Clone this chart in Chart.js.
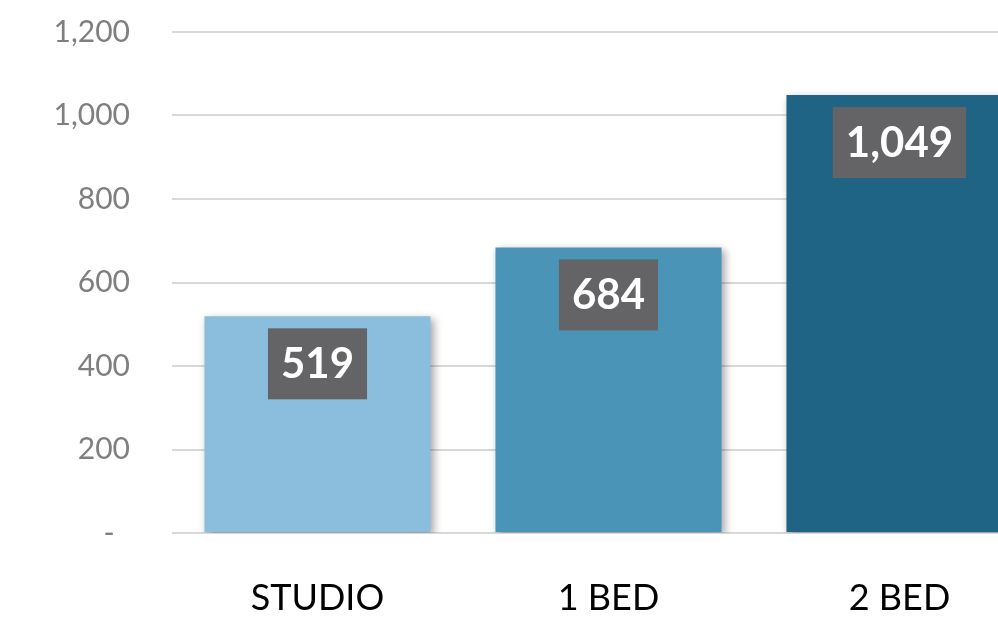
<!DOCTYPE html>
<html lang="en">
<head>
    <meta charset="UTF-8">
    <title>Unit sizes</title>
    <script src="https://cdn.jsdelivr.net/npm/chart.js"></script>
    <style>
        html, body { margin: 0; padding: 0; overflow: hidden; background: #fff; }
        #wrap { width: 1045px; height: 620px; }
    </style>
</head>
<body>
    <div id="wrap"><canvas id="chart" width="1045" height="620"></canvas></div>

    <script>
        // data
        const categories = ['STUDIO', '1 BED', '2 BED'];
        const values = [519, 684, 1049];
        const barColors = ['#8abedc', '#4a94b8', '#206485'];
        const yTicks = [0, 200, 400, 600, 800, 1000, 1200];

        function fmt(v) {
            return v === 0 ? '-' : v.toLocaleString('en-US');
        }

        // soft shadow under the bars
        const barShadow = {
            id: 'barShadow',
            beforeDatasetsDraw(chart) {
                const ctx = chart.ctx;
                ctx.save();
                ctx.shadowColor = 'rgba(0,0,0,0.35)';
                ctx.shadowBlur = 8;
                ctx.shadowOffsetX = 3;
                ctx.shadowOffsetY = 3;
            },
            afterDatasetsDraw(chart) {
                chart.ctx.restore();
            }
        };

        // dark boxes with the value near the top of each bar
        const valueBoxes = {
            id: 'valueBoxes',
            afterDatasetsDraw(chart) {
                const ctx = chart.ctx;
                const meta = chart.getDatasetMeta(0);
                ctx.save();
                ctx.font = 'bold 42px Lato';
                ctx.textAlign = 'center';
                ctx.textBaseline = 'middle';
                meta.data.forEach((bar, i) => {
                    const txt = fmt(values[i]);
                    const w = ctx.measureText(txt).width + 26;
                    const h = 71;
                    const top = bar.y + 12;
                    ctx.fillStyle = '#646466';
                    ctx.fillRect(bar.x - w / 2, top, w, h);
                    ctx.fillStyle = '#ffffff';
                    ctx.fillText(txt, bar.x, top + h / 2 + 1);
                });
                ctx.restore();
            }
        };

        new Chart(document.getElementById('chart'), {
            type: 'bar',
            data: {
                labels: categories,
                datasets: [{
                    data: values,
                    backgroundColor: barColors,
                    borderWidth: 0,
                    barPercentage: 0.777,
                    categoryPercentage: 1
                }]
            },
            options: {
                responsive: false,
                animation: false,
                layout: { autoPadding: false, padding: { top: 32, right: 0, left: 0, bottom: 0 } },
                plugins: {
                    legend: { display: false },
                    tooltip: { enabled: false }
                },
                scales: {
                    x: {
                        grid: { display: false },
                        border: { display: false },
                        ticks: {
                            color: '#000000',
                            font: { family: 'Lato', size: 36 },
                            padding: 36,
                            maxRotation: 0
                        },
                        afterFit(s) { s.height = 87; s.paddingLeft = 0; s.paddingRight = 0; }
                    },
                    y: {
                        min: 0,
                        max: 1200,
                        afterBuildTicks(s) { s.ticks = yTicks.map(v => ({ value: v })); },
                        grid: { color: '#d9d9d9', lineWidth: 2, drawTicks: false },
                        border: { display: false },
                        ticks: {
                            color: '#7f7f7f',
                            font: { family: 'Lato', size: 30 },
                            padding: 42,
                            callback: v => v === 0 ? '-  ' : fmt(v)
                        },
                        afterFit(s) { s.width = 172; s.paddingTop = 0; s.paddingBottom = 0; }
                    }
                }
            },
            plugins: [barShadow, valueBoxes]
        });
    </script>
</body>
</html>
